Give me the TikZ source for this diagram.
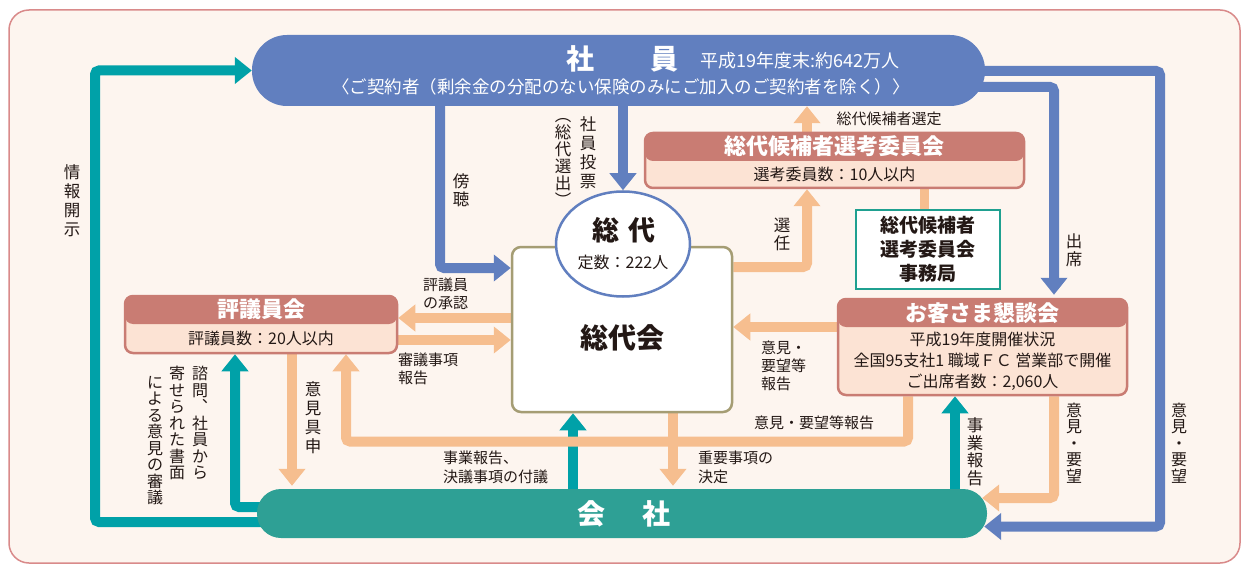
\documentclass[tikz,border=0pt]{standalone}
\usepackage{fontspec}
\setmainfont{Noto Sans CJK JP}
\usetikzlibrary{arrows.meta,shapes.geometric,calc}
\definecolor{frameline}{HTML}{D98A8A}
\definecolor{framefill}{HTML}{FDF5EF}
\definecolor{blueA}{HTML}{617FBF}
\definecolor{tealA}{HTML}{00A1A8}
\definecolor{tealP}{HTML}{2EA095}
\definecolor{peach}{HTML}{F6BE8F}
\definecolor{sal}{HTML}{C97C73}
\definecolor{bodyc}{HTML}{FCE3D4}
\definecolor{olive}{HTML}{A59D74}
\definecolor{ink}{HTML}{231815}
\definecolor{jimub}{HTML}{1FA090}
\pgfdeclarelayer{back}\pgfdeclarelayer{arr}
\pgfsetlayers{back,arr,main}
\tikzset{
 txt/.style={text=ink, inner sep=0pt},
 lab/.style={txt, font=\fontsize{15}{18}\selectfont, align=left},
 vlab/.style={txt, font=\fontsize{16.5}{19}\selectfont, align=center},
 vlabs/.style={txt, font=\fontsize{16}{16.5}\selectfont, align=center},
 hdr/.style={text=white, inner sep=0pt, font=\bfseries\fontsize{22}{26}\selectfont},
 bodytxt/.style={txt, font=\fontsize{16}{21}\selectfont, align=center},
 cbox/.style={draw=sal, line width=2.5pt, fill=bodyc, rounded corners=8pt, inner sep=0pt,
   path picture={\fill[sal] (path picture bounding box.north west) rectangle ([yshift=-28pt]path picture bounding box.north east);}},
 arrbase/.style={line width=10pt, rounded corners=4pt, -{Triangle[width=26pt,length=17pt]}},
 barrow/.style={arrbase, draw=blueA},
 tarrow/.style={arrbase, draw=tealA},
 parrow/.style={arrbase, draw=peach},
 pill/.style={inner sep=0pt},
}
\begin{document}
\begin{tikzpicture}[x=1pt,y=-1pt]
\useasboundingbox (0,0) rectangle (1242,564);
\begin{pgfonlayer}{back}
\fill[white] (0,0) rectangle (1242,564);
\draw[frameline, fill=framefill, line width=1.5pt, rounded corners=20pt] (9,10) rectangle (1240,563);
\end{pgfonlayer}

% pills
\node[pill, fill=blueA, rounded corners=35pt, minimum width=733pt, minimum height=71pt] (shain) at (618.5,70.5) {};
\node[text=white, inner sep=0pt, font=\bfseries\fontsize{28}{30}\selectfont] (shainT) at (622,59) {社\hspace{2em}員};
\node[text=white, inner sep=0pt, font=\fontsize{18}{20}\selectfont, anchor=west] (shainN) at (700,61) {平成19年度末:約642万人};
\node[text=white, inner sep=0pt, font=\fontsize{17.5}{20}\selectfont] (shainS) at (621,87) {〈ご契約者（剰余金の分配のない保険のみにご加入のご契約者を除く）〉};

\node[pill, fill=tealP, rounded corners=24pt, minimum width=730pt, minimum height=49pt] (kaisha) at (622,513.5) {};
\node[text=white, inner sep=0pt, font=\bfseries\fontsize{28}{30}\selectfont] (kaishaT) at (624,514) {会\hspace{1.3em}社};

% boxes
\node[cbox, minimum width=272pt, minimum height=57pt] (hyo) at (261,324.5) {};
\node[hdr] (hyoH) at (261,309.5) {評議員会};
\node[bodytxt] (hyoB) at (261,338.5) {評議員数：20人以内};

\node[cbox, minimum width=379pt, minimum height=55pt] (senko) at (834.5,160.5) {};
\node[hdr] (senkoH) at (834.5,146.5) {総代候補者選考委員会};
\node[bodytxt] (senkoB) at (834.5,174) {選考委員数：10人以内};

\node[cbox, minimum width=289pt, minimum height=96pt] (kon) at (982.5,347) {};
\node[hdr] (konH) at (982.5,313) {お客さま懇談会};
\node[bodytxt] (konB) at (982.5,361.5) {平成19年度開催状況\\全国95支社1 職域ＦＣ 営業部で開催\\ご出席者数：2,060人};

\node[draw=jimub, line width=2pt, fill=white, minimum width=144pt, minimum height=79pt, txt, font=\bfseries\fontsize{19}{24}\selectfont, align=center] (jimu) at (928,249.5) {総代候補者\\選考委員会\\事務局};

\node[draw=olive, line width=2.5pt, fill=white, rounded corners=9pt, minimum width=220pt, minimum height=165pt, inner sep=0pt] (sodaikai) at (622,329.5) {};
\node[txt, font=\bfseries\fontsize{28}{32}\selectfont] (sodaikaiT) at (622,338) {総代会};

\node[ellipse, draw=blueA, line width=2.5pt, fill=white, minimum width=134pt, minimum height=105pt, inner sep=0pt] (sodai) at (623,244) {};
\node[txt, font=\bfseries\fontsize{27}{30}\selectfont] (sodaiT) at (624,230) {総\hspace{0.3em}代};
\node[txt, font=\fontsize{16}{19}\selectfont] (sodaiN) at (623,262) {定数：222人};

% coordinates for bends
\coordinate (b1) at (440,268);
\coordinate (c3) at (1054,87);
\coordinate (c4) at (1160,71);
\coordinate (c4b) at (1160,526.5);
\coordinate (t1) at (95,522);
\coordinate (t1b) at (95,70.5);
\coordinate (t2) at (235,507);
\coordinate (t3) at (573,450);
\coordinate (t4) at (955,450);
\coordinate (s1) at (807,267);
\coordinate (s2) at (924,200);
\coordinate (s3) at (292,420);
\coordinate (s4) at (673,450);
\coordinate (p1) at (908,441.5);
\coordinate (p1b) at (346,441.5);
\coordinate (p4) at (780,327);
\coordinate (p5) at (1054,498);
\coordinate (q1) at (450,318);
\coordinate (q2) at (450,340);

\begin{pgfonlayer}{arr}
% blue
\draw[barrow] (shain.south -| b1) -- (b1) -- (sodaikai.west |- b1);
\draw[barrow] (shain.south -| sodai.north) -- (sodai.north);
\draw[barrow, shorten >=3pt] (shain.center |- c3) -- (c3) -- (kon.north -| c3);
\draw[barrow, shorten >=-3pt] (shain.center |- c4) -- (c4) -- (c4b) -- (kaisha.east |- c4b);
% teal
\draw[tarrow] (kaisha.center |- t1) -- (t1) -- (t1b) -- (shain.west |- t1b);
\draw[tarrow] (kaisha.center |- t2) -- (t2) -- (hyo.south -| t2);
\draw[tarrow] (kaisha.north -| t3) -- (sodaikai.south -| t3);
\draw[tarrow] (kaisha.north -| t4) -- (kon.south -| t4);
% peach
\draw[parrow, shorten >=3pt] (hyo.south -| s3) -- (kaisha.north -| s3);
\draw[parrow] (kon.south -| p1) -- (p1) -- (p1b) -- (hyo.south -| p1b);
\draw[parrow, shorten >=3pt] (sodaikai.south -| s4) -- (kaisha.north -| s4);
\draw[parrow] (sodaikai.west |- q1) -- (hyo.east |- q1);
\draw[parrow] (hyo.east |- q2) -- (sodaikai.west |- q2);
\draw[parrow] (kon.west |- p4) -- (sodaikai.east |- p4);
\draw[parrow] (sodaikai.east |- s1) -- (s1) -- (senko.south -| s1);
\draw[parrow] (senko.north -| s1) -- (shain.south -| s1);
\draw[peach, line width=9pt] (senko.south -| s2) -- (jimu.north -| s2);
\draw[parrow, shorten >=-5pt] (kon.south -| p5) -- (p5) -- (kaisha.east |- p5);
\end{pgfonlayer}

% labels
\node[vlab] (lJoho) at (72,201) {情\\報\\開\\示};
\node[vlab, font=\fontsize{16.5}{18}\selectfont] (lBocho) at (461,190) {傍\\聴};
\node[vlab] (lTohyo) at (588,153) {社\\員\\投\\票};
\node[vlab, font=\fontsize{16.5}{17}\selectfont] (lSenshutsu) at (563,162) {︵\\総\\代\\選\\出\\︶};
\node[vlab, font=\fontsize{16.5}{18}\selectfont] (lSennin) at (782,234) {選\\任};
\node[lab] (lSentei) at (889,119) {総代候補者選定};
\node[vlab, font=\fontsize{16.5}{18}\selectfont] (lShusseki) at (1074,250) {出\\席};
\node[vlabs] (lIkenB) at (1179,443) {意\\見\\・\\要\\望};
\node[vlabs] (lIkenP) at (1074,443) {意\\見\\・\\要\\望};
\node[vlab, font=\fontsize{16.5}{17.5}\selectfont] (lJigyo) at (975,452) {事\\業\\報\\告};
\node[lab] (lIkenHoukoku) at (814,423) {意見・要望等報告};
\node[lab, anchor=west] (lIkenR) at (761,366) {意見・\\要望等\\報告};
\node[lab, anchor=west] (lShonin) at (423,294) {評議員\\の承認};
\node[lab, anchor=west] (lShingi) at (398,368.5) {審議事項\\報告};
\node[lab, anchor=west, font=\fontsize{15}{19}\selectfont] (lJigyoK) at (443,467.5) {事業報告、\\決議事項の付議};
\node[lab, anchor=west, font=\fontsize{15}{19}\selectfont] (lJuyo) at (698,467.5) {重要事項の\\決定};
\node[vlab] (lGushin) at (313,418) {意\\見\\具\\申};
\node[vlabs, anchor=north] (lShimon1) at (200,366) {諮\\問\\︑\\社\\員\\か\\ら};
\node[vlabs, anchor=north] (lShimon2) at (177,366) {寄\\せ\\ら\\れ\\た\\書\\面};
\node[vlabs, anchor=north] (lShimon3) at (155,376) {に\\よ\\る\\意\\見\\の\\審\\議};
\end{tikzpicture}
\end{document}
